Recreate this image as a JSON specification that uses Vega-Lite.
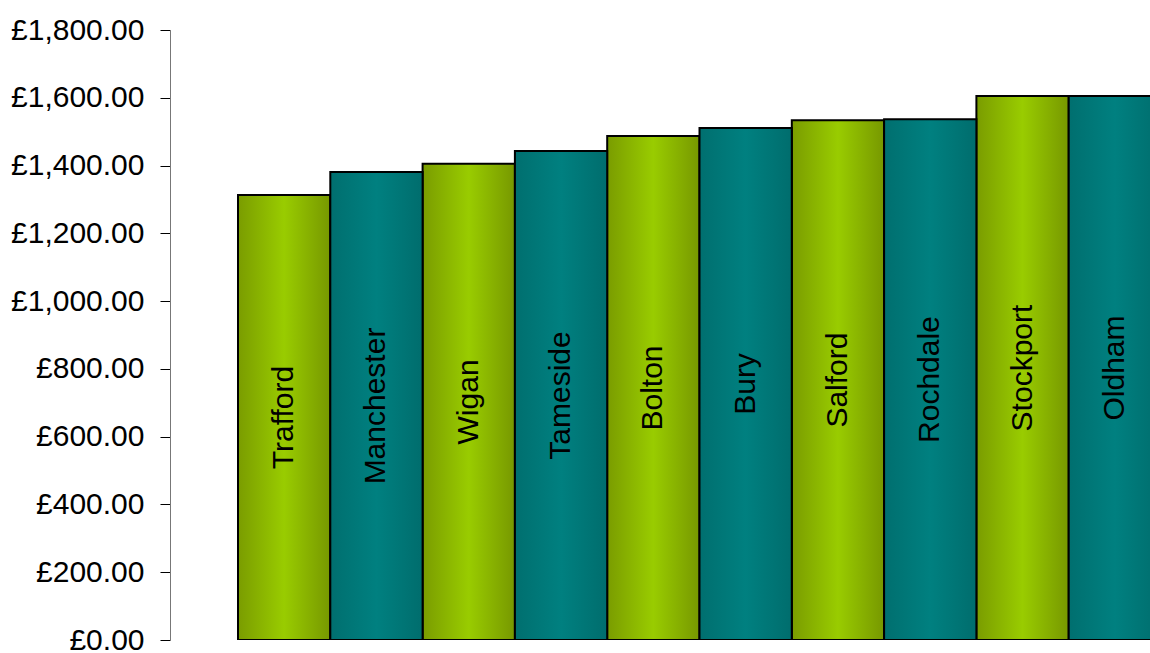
{
  "$schema": "https://vega.github.io/schema/vega-lite/v6.json",
  "width": 980,
  "height": 610,
  "autosize": {"type": "none"},
  "padding": {"left": 170, "top": 30, "right": 0, "bottom": 13},
  "background": "white",
  "config": {"view": {"stroke": null}},
  "data": {
    "values": [
      {"area": "Trafford", "value": 1313},
      {"area": "Manchester", "value": 1381},
      {"area": "Wigan", "value": 1405},
      {"area": "Tameside", "value": 1443},
      {"area": "Bolton", "value": 1487},
      {"area": "Bury", "value": 1511},
      {"area": "Salford", "value": 1534},
      {"area": "Rochdale", "value": 1537},
      {"area": "Stockport", "value": 1605},
      {"area": "Oldham", "value": 1605}
    ]
  },
  "encoding": {
    "x": {
      "field": "area",
      "type": "nominal",
      "sort": ["Trafford", "Manchester", "Wigan", "Tameside", "Bolton", "Bury", "Salford", "Rochdale", "Stockport", "Oldham"],
      "axis": null,
      "scale": {"range": [68, 991], "paddingInner": 0, "paddingOuter": 0}
    }
  },
  "layer": [
    {
      "transform": [{"filter": {"field": "area", "oneOf": ["Trafford", "Wigan", "Bolton", "Salford", "Stockport"]}}],
      "mark": {
        "type": "bar",
        "clip": true,
        "stroke": "black",
        "strokeWidth": 2,
        "color": {
          "gradient": "linear", "x1": 0, "x2": 1, "y1": 0, "y2": 0,
          "stops": [
            {"offset": 0, "color": "#7a9c00"},
            {"offset": 0.5, "color": "#99cc00"},
            {"offset": 1, "color": "#779800"}
          ]
        }
      },
      "encoding": {
        "y": {
          "field": "value",
          "type": "quantitative",
          "title": null,
          "scale": {"domain": [0, 1800], "nice": false, "zero": true},
          "axis": {
            "values": [0, 200, 400, 600, 800, 1000, 1200, 1400, 1600, 1800],
            "labelExpr": "'£' + format(datum.value, ',.2f')",
            "grid": false,
            "labelFont": "Liberation Sans",
            "labelFontSize": 30,
            "labelColor": "black",
            "labelPadding": 16,
            "tickSize": 10,
            "tickColor": "black",
            "domainColor": "#777777",
            "domainWidth": 1,
            "labelBound": false,
            "labelOverlap": false,
            "labelFlush": false
          }
        }
      }
    },
    {
      "transform": [{"filter": {"field": "area", "oneOf": ["Manchester", "Tameside", "Bury", "Rochdale", "Oldham"]}}],
      "mark": {
        "type": "bar",
        "clip": true,
        "stroke": "black",
        "strokeWidth": 2,
        "color": {
          "gradient": "linear", "x1": 0, "x2": 1, "y1": 0, "y2": 0,
          "stops": [
            {"offset": 0, "color": "#006f6f"},
            {"offset": 0.5, "color": "#008080"},
            {"offset": 1, "color": "#006d6d"}
          ]
        }
      },
      "encoding": {
        "y": {"field": "value", "type": "quantitative", "title": null}
      }
    },
    {
      "transform": [{"calculate": "datum.value / 2", "as": "mid"}],
      "mark": {
        "type": "text",
        "angle": 270,
        "align": "center",
        "baseline": "middle",
        "font": "Liberation Sans",
        "fontSize": 30,
        "color": "black"
      },
      "encoding": {
        "y": {"field": "mid", "type": "quantitative", "title": null},
        "text": {"field": "area"}
      }
    }
  ]
}
